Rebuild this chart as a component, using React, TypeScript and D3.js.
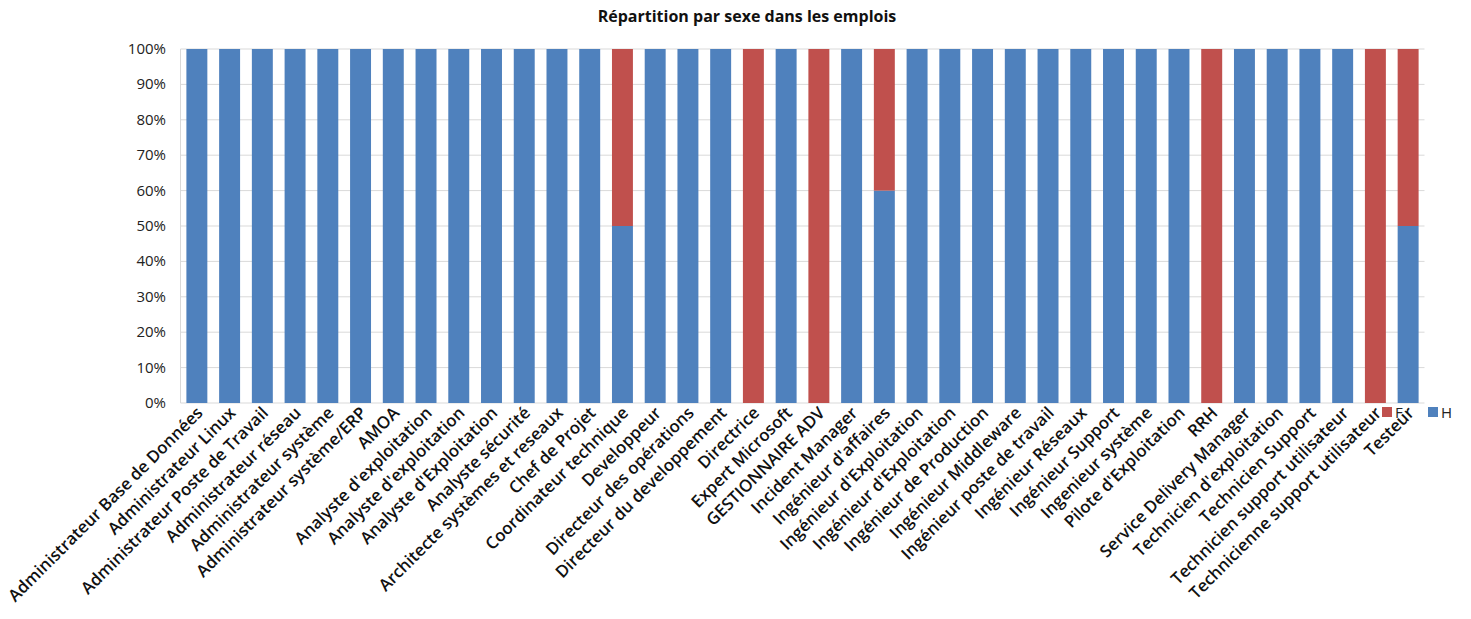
import React from "react";
import * as d3 from "d3";

const categories = [
  "Administrateur Base de Données",
  "Administrateur Linux",
  "Administrateur Poste de Travail",
  "Administrateur réseau",
  "Administrateur système",
  "Administrateur système/ERP",
  "AMOA",
  "Analyste d'exploitation",
  "Analyste d'exploitation",
  "Analyste d'Exploitation",
  "Analyste sécurité",
  "Architecte systèmes et reseaux",
  "Chef de Projet",
  "Coordinateur technique",
  "Developpeur",
  "Directeur des opérations",
  "Directeur du developpement",
  "Directrice",
  "Expert Microsoft",
  "GESTIONNAIRE ADV",
  "Incident Manager",
  "Ingénieur d'affaires",
  "Ingénieur d'Exploitation",
  "Ingénieur d'Exploitation",
  "Ingénieur de Production",
  "Ingénieur Middleware",
  "Ingénieur poste de travail",
  "Ingénieur Réseaux",
  "Ingénieur Support",
  "Ingenieur système",
  "Pilote d'Exploitation",
  "RRH",
  "Service Delivery Manager",
  "Technicien d'exploitation",
  "Technicien Support",
  "Technicien support utilisateur",
  "Technicienne support utilisateur",
  "Testeur",
];

const hValues = [
  100, 100, 100, 100, 100, 100, 100, 100, 100, 100, 100, 100, 100, 50, 100, 100, 100, 0, 100, 0,
  100, 60, 100, 100, 100, 100, 100, 100, 100, 100, 100, 0, 100, 100, 100, 100, 0, 50,
];
const fValues = [
  0, 0, 0, 0, 0, 0, 0, 0, 0, 0, 0, 0, 0, 50, 0, 0, 0, 100, 0, 100,
  0, 40, 0, 0, 0, 0, 0, 0, 0, 0, 0, 100, 0, 0, 0, 0, 100, 50,
];
const yTicks = [0, 10, 20, 30, 40, 50, 60, 70, 80, 90, 100];
const title = "Répartition par sexe dans les emplois";

const BLUE = "#4F81BD";
const RED = "#C0504D";

export default function App() {
  const W = 1471;
  const H = 619;
  const left = 180.5;
  const right = 1424.5;
  const top = 49;
  const bottom = 403;
  const idx = categories.map((_, i) => String(i));
  const x = d3.scaleBand().domain(idx).range([left, right]).paddingInner(0.36).paddingOuter(0.18);
  const y = d3.scaleLinear().domain([0, 100]).range([bottom, top]);
  const font = "'Open Sans', sans-serif";

  return (
    <svg width={W} height={H} style={{ position: "absolute", left: 0, top: 0, background: "#fff" }}>
      <text x={747} y={22} textAnchor="middle" fontFamily={font} fontWeight={700} fontSize={16} fill="#111">
        {title}
      </text>
      {yTicks.map((t) => (
        <g key={t}>
          <line x1={left} x2={right} y1={y(t)} y2={y(t)} stroke="#d9d9d9" strokeWidth={1} />
          <text x={166} y={y(t) + 5} textAnchor="end" fontFamily={font} fontSize={15} fill="#222">
            {t}%
          </text>
        </g>
      ))}
      <line x1={left} x2={left} y1={top} y2={bottom} stroke="#d9d9d9" />
      {categories.map((c, i) => {
        const bx = x(String(i))!;
        const bw = x.bandwidth();
        const h = hValues[i];
        const f = fValues[i];
        return (
          <g key={i}>
            {h > 0 && <rect x={bx} width={bw} y={y(h)} height={y(0) - y(h)} fill={BLUE} />}
            {f > 0 && <rect x={bx} width={bw} y={y(h + f)} height={y(h) - y(h + f)} fill={RED} />}
          </g>
        );
      })}
      {categories.map((c, i) => {
        const cx = x(String(i))! + x.bandwidth() / 2 + 7;
        const cy = 414;
        return (
          <text
            key={i}
            transform={`translate(${cx},${cy}) rotate(-45)`}
            textAnchor="end"
            fontFamily={font}
            fontWeight={600}
            fontSize={16.8}
            fill="#111"
          >
            {c}
          </text>
        );
      })}
      <g>
        <rect x={1382} y={407} width={10} height={10} fill={RED} />
        <text x={1395} y={418} fontFamily={font} fontSize={15} fill="#222">F</text>
        <rect x={1428} y={407} width={10} height={10} fill={BLUE} />
        <text x={1441} y={418} fontFamily={font} fontSize={15} fill="#222">H</text>
      </g>
    </svg>
  );
}
